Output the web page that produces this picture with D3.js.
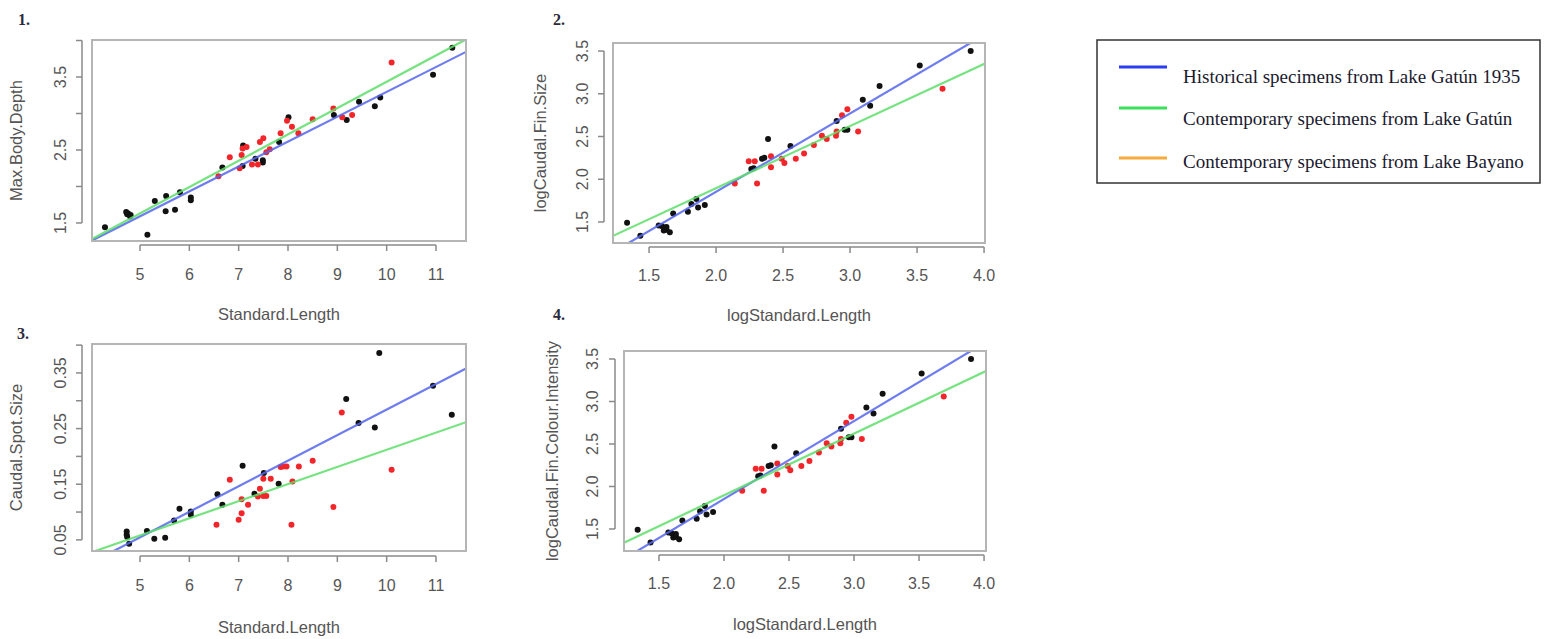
<!DOCTYPE html>
<html>
<head>
<meta charset="utf-8">
<script src="https://cdn.jsdelivr.net/npm/d3@7"></script>
<style>
  body { margin: 0; background: #fff; }
  svg text { font-family: "Liberation Sans", Arial, sans-serif; }
</style>
</head>
<body>
<div id="chart"></div>
<script>
// ---- data ----
// panel 1: Max.Body.Depth vs Standard.Length
const depthHistorical = [
  [4.29,1.44],[4.72,1.65],[4.76,1.63],[4.81,1.61],[4.74,1.62],[4.80,1.59],[5.15,1.34],
  [5.30,1.80],[5.53,1.87],[5.52,1.66],[5.71,1.68],[5.81,1.92],[6.03,1.85],[6.03,1.81],
  [6.67,2.26],[7.09,2.56],[7.08,2.28],[7.34,2.38],[7.49,2.36],[7.49,2.33],[7.82,2.61],
  [8.01,2.95],[8.93,2.98],[9.19,2.91],[9.44,3.16],[9.76,3.10],[9.87,3.22],[10.94,3.53],[11.33,3.90]
];
const depthContemporary = [
  [6.59,2.14],[6.82,2.40],[7.02,2.25],[7.06,2.43],[7.08,2.52],[7.16,2.54],[7.27,2.30],
  [7.39,2.30],[7.43,2.61],[7.50,2.66],[7.56,2.47],[7.63,2.51],[7.85,2.73],[7.98,2.90],
  [8.08,2.82],[8.21,2.73],[8.50,2.92],[8.92,3.07],[9.10,2.95],[9.30,2.98],[10.10,3.70]
];
// panel 3: Caudal.Spot.Size vs Standard.Length
const spotHistorical = [
  [4.73,0.065],[4.73,0.059],[4.74,0.055],[4.78,0.043],[5.14,0.066],[5.29,0.052],[5.51,0.054],
  [5.69,0.085],[5.80,0.106],[6.03,0.101],[6.03,0.095],[6.57,0.132],[6.67,0.113],[7.08,0.183],
  [7.32,0.133],[7.51,0.170],[7.81,0.151],[9.18,0.303],[9.43,0.260],[9.76,0.252],[9.85,0.386],
  [10.94,0.327],[11.32,0.275]
];
const spotContemporary = [
  [6.55,0.077],[6.82,0.158],[7.00,0.086],[7.06,0.098],[7.06,0.123],[7.19,0.113],[7.39,0.128],
  [7.43,0.142],[7.50,0.129],[7.56,0.129],[7.50,0.160],[7.65,0.160],[7.85,0.181],[7.97,0.182],
  [7.90,0.182],[8.22,0.182],[8.07,0.077],[8.09,0.155],[8.50,0.192],[8.92,0.109],[9.09,0.279],
  [10.10,0.176]
];
// panels 2 and 4 show the same specimens
const finHistorical = [
  [1.336,1.49],[1.435,1.34],[1.572,1.46],[1.597,1.45],[1.617,1.43],[1.63,1.41],[1.655,1.38],
  [1.61,1.40],[1.63,1.44],[1.68,1.60],[1.79,1.62],[1.816,1.71],[1.853,1.77],[1.866,1.67],
  [1.916,1.70],[2.263,2.12],[2.28,2.13],[2.343,2.24],[2.36,2.25],[2.388,2.47],[2.555,2.39],
  [2.90,2.68],[2.96,2.58],[2.98,2.58],[3.095,2.93],[3.15,2.86],[3.22,3.09],[3.52,3.33],[3.90,3.50]
];
const finContemporary = [
  [2.14,1.95],[2.244,2.21],[2.289,2.21],[2.306,1.95],[2.41,2.27],[2.41,2.14],[2.49,2.24],
  [2.51,2.19],[2.595,2.24],[2.657,2.30],[2.73,2.40],[2.79,2.51],[2.826,2.47],[2.895,2.51],
  [2.90,2.56],[2.94,2.75],[2.98,2.82],[3.06,2.56],[3.69,3.06]
];
// regression lines [intercept, slope]
const depthFits = [[-0.114, 0.341], [-0.175, 0.361]];
const spotFits  = [[-0.175, 0.0459], [-0.096, 0.0308]];
const finFits   = [[0.019, 0.917], [0.444, 0.726]];

const lengthTicks = [5, 6, 7, 8, 9, 10, 11];
const logLengthTicks = [1.5, 2.0, 2.5, 3.0, 3.5, 4.0];
const depthTicks = [1.5, 2.0, 2.5, 3.0, 3.5, 4.0];
const depthTickLabels = [1.5, 2.5, 3.5];
const spotTicks = [0.05, 0.10, 0.15, 0.20, 0.25, 0.30, 0.35, 0.40];
const spotTickLabels = [0.05, 0.15, 0.25, 0.35];
const finTicks = [1.5, 2.0, 2.5, 3.0, 3.5];

const legendLabels = [
  "Historical specimens from Lake Gatún 1935",
  "Contemporary specimens from Lake Gatún",
  "Contemporary specimens from Lake Bayano"
];
const legendColors = ["#2a3df0", "#3de05a", "#f7ab3c"];

// ---- layout ----
const W = 1546, H = 639;
const fitColors = ["#5566ee", "#5ddf6a"];

const svg = d3.select("#chart").append("svg")
    .attr("width", W).attr("height", H);

const panels = [
  {tag: "1.", tagX: 18, tagY: 25, box: [92, 40, 466, 241], xDom: [4.027, 11.608], yDom: [1.253, 4.007],
   hist: depthHistorical, cont: depthContemporary, fits: depthFits,
   xTicks: lengthTicks, xLabels: lengthTicks, xFmt: d3.format("d"),
   yTicks: depthTicks, yLabels: depthTickLabels, yFmt: d3.format(".1f"),
   yAxisX: 82, xAxisY: 245, yLabX: 66, xLabY: 280, yTitleX: 22, xTitleY: 320,
   xTitle: "Standard.Length", yTitle: "Max.Body.Depth"},
  {tag: "2.", tagX: 553, tagY: 25, box: [613, 43, 985, 243], xDom: [1.231, 4.007], yDom: [1.254, 3.594],
   hist: finHistorical, cont: finContemporary, fits: finFits,
   xTicks: logLengthTicks, xLabels: logLengthTicks, xFmt: d3.format(".1f"),
   yTicks: finTicks, yLabels: finTicks, yFmt: d3.format(".1f"),
   yAxisX: 604, xAxisY: 247, yLabX: 588, xLabY: 281, yTitleX: 546, xTitleY: 321,
   xTitle: "logStandard.Length", yTitle: "logCaudal.Fin.Size"},
  {tag: "3.", tagX: 17, tagY: 339, box: [92, 344, 466, 551], xDom: [4.027, 11.608], yDom: [0.030, 0.402],
   hist: spotHistorical, cont: spotContemporary, fits: spotFits,
   xTicks: lengthTicks, xLabels: lengthTicks, xFmt: d3.format("d"),
   yTicks: spotTicks, yLabels: spotTickLabels, yFmt: d3.format(".2f"),
   yAxisX: 82, xAxisY: 556, yLabX: 66, xLabY: 591, yTitleX: 22, xTitleY: 633,
   xTitle: "Standard.Length", yTitle: "Caudal.Spot.Size"},
  {tag: "4.", tagX: 553, tagY: 320, box: [624, 351, 986, 551], xDom: [1.231, 4.015], yDom: [1.241, 3.594],
   hist: finHistorical, cont: finContemporary, fits: finFits,
   xTicks: logLengthTicks, xLabels: logLengthTicks, xFmt: d3.format(".1f"),
   yTicks: finTicks, yLabels: finTicks, yFmt: d3.format(".1f"),
   yAxisX: 615, xAxisY: 555, yLabX: 598, xLabY: 589, yTitleX: 558, xTitleY: 630,
   xTitle: "logStandard.Length", yTitle: "logCaudal.Fin.Colour.Intensity"}
];

const axisColor = "#8a8a8a", labelColor = "#555";

panels.forEach((p, i) => {
  const [x0, y0, x1, y1] = p.box;
  const x = d3.scaleLinear().domain(p.xDom).range([x0, x1]);
  const y = d3.scaleLinear().domain(p.yDom).range([y1, y0]);
  const g = svg.append("g");

  g.append("clipPath").attr("id", "clip" + i)
    .append("rect").attr("x", x0).attr("y", y0).attr("width", x1 - x0).attr("height", y1 - y0);

  // points
  g.selectAll(".hist").data(p.hist).enter().append("circle")
    .attr("cx", d => x(d[0])).attr("cy", d => y(d[1])).attr("r", 3)
    .style("fill", "#111");
  g.selectAll(".cont").data(p.cont).enter().append("circle")
    .attr("cx", d => x(d[0])).attr("cy", d => y(d[1])).attr("r", 3)
    .style("fill", "#f2262a");

  // fitted lines
  g.selectAll(".fit").data(p.fits).enter().append("line")
    .attr("clip-path", "url(#clip" + i + ")")
    .attr("x1", x(p.xDom[0])).attr("x2", x(p.xDom[1]))
    .attr("y1", d => y(d[0] + d[1] * p.xDom[0]))
    .attr("y2", d => y(d[0] + d[1] * p.xDom[1]))
    .style("stroke", (d, k) => fitColors[k]).style("stroke-width", 2.2)
    .style("opacity", 0.85);

  // box
  g.append("rect").attr("x", x0).attr("y", y0).attr("width", x1 - x0).attr("height", y1 - y0)
    .style("fill", "none").style("stroke", "#b5b5b5").style("stroke-width", 2);

  // x axis
  const xa = g.append("g").attr("transform", "translate(0," + p.xAxisY + ")");
  xa.append("line").attr("x1", x(p.xTicks[0])).attr("x2", x(p.xTicks[p.xTicks.length - 1]))
    .style("stroke", axisColor).style("stroke-width", 1.5);
  xa.selectAll(".tk").data(p.xTicks).enter().append("line")
    .attr("x1", d => x(d)).attr("x2", d => x(d)).attr("y1", 0).attr("y2", 6)
    .style("stroke", axisColor).style("stroke-width", 1.5);
  g.selectAll(".xl").data(p.xLabels).enter().append("text")
    .attr("x", d => x(d)).attr("y", p.xLabY).attr("text-anchor", "middle")
    .style("font-size", "16px").style("fill", labelColor).text(p.xFmt);

  // y axis
  const ya = g.append("g").attr("transform", "translate(" + p.yAxisX + ",0)");
  ya.append("line").attr("y1", y(p.yTicks[0])).attr("y2", y(p.yTicks[p.yTicks.length - 1]))
    .style("stroke", axisColor).style("stroke-width", 1.5);
  ya.selectAll(".tk").data(p.yTicks).enter().append("line")
    .attr("y1", d => y(d)).attr("y2", d => y(d)).attr("x1", 0).attr("x2", -6)
    .style("stroke", axisColor).style("stroke-width", 1.5);
  g.selectAll(".yl").data(p.yLabels).enter().append("text")
    .attr("transform", d => "translate(" + p.yLabX + "," + y(d) + ") rotate(-90)")
    .attr("text-anchor", "middle")
    .style("font-size", "16px").style("fill", labelColor).text(p.yFmt);

  // titles
  g.append("text").attr("x", (x0 + x1) / 2).attr("y", p.xTitleY).attr("text-anchor", "middle")
    .style("font-size", "16.5px").style("fill", labelColor).text(p.xTitle);
  g.append("text")
    .attr("transform", "translate(" + p.yTitleX + "," + (y0 + y1) / 2 + ") rotate(-90)")
    .attr("text-anchor", "middle")
    .style("font-size", "16.5px").style("fill", labelColor).text(p.yTitle);

  g.append("text").attr("x", p.tagX).attr("y", p.tagY)
    .style("font-family", "'Liberation Serif', 'Times New Roman', serif")
    .style("font-size", "16px").style("font-weight", "bold").style("fill", "#2a2a3a")
    .text(p.tag);
});

// legend
const lg = svg.append("g");
lg.append("rect").attr("x", 1097).attr("y", 40).attr("width", 443).attr("height", 143)
  .style("fill", "#fff").style("stroke", "#333").style("stroke-width", 1.5);
const lineY = [67, 108, 158], textY = [83, 125, 168];
lg.selectAll(".ll").data(legendLabels).enter().append("line")
  .attr("x1", 1119).attr("x2", 1167)
  .attr("y1", (d, i) => lineY[i]).attr("y2", (d, i) => lineY[i])
  .style("stroke", (d, i) => legendColors[i]).style("stroke-width", 3);
lg.selectAll(".lt").data(legendLabels).enter().append("text")
  .attr("x", 1183).attr("y", (d, i) => textY[i])
  .style("font-family", "'Liberation Serif', 'Times New Roman', serif")
  .style("font-size", "19px").style("fill", "#1a1a2e")
  .text(d => d);
</script>
</body>
</html>
